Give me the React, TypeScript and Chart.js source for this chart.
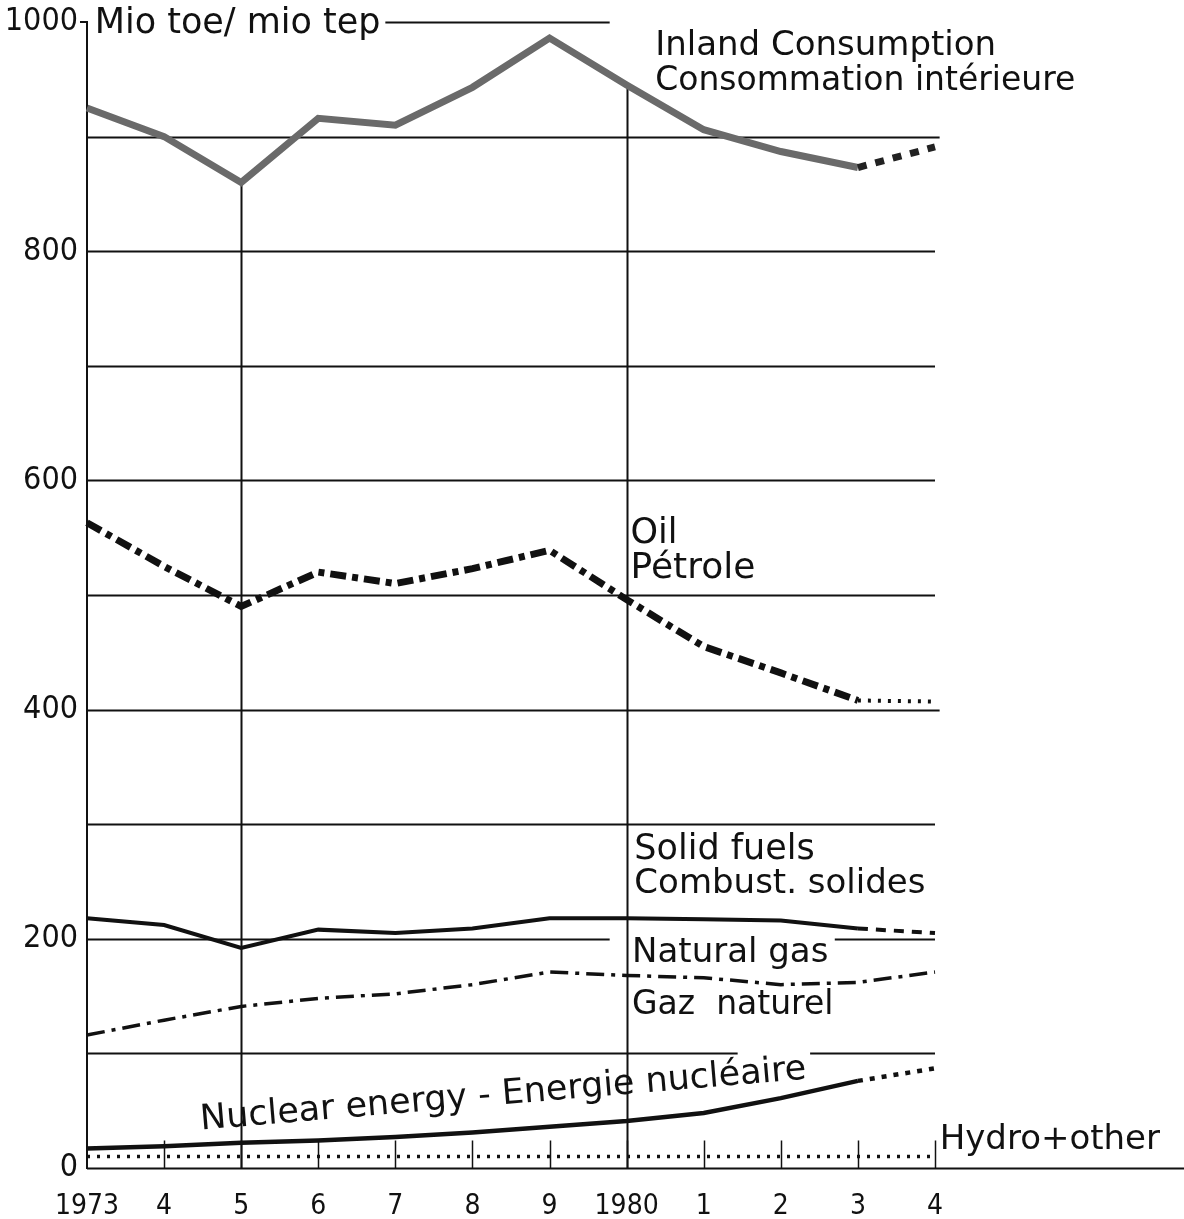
import React, { useEffect, useRef } from 'react';
import { Chart, registerables } from 'chart.js';

Chart.register(...registerables);

// ---- data (Mio toe) ----
const years = ['1973', '4', '5', '6', '7', '8', '9', '1980', '1', '2', '3', '4'];
const inland = [925, 900, 860, 916, 910, 943, 986, 945, 906, 887, 873, 891];
const oil = [563, 525, 490, 520, 510, 523, 539, 496, 455, 432, 408, 407];
const solidFuels = [218, 212, 192, 208, 205, 209, 218, 218, 217, 216, 209, 205];
const naturalGas = [116, 129, 141, 148, 152, 160, 171, 168, 166, 160, 162, 171];
const nuclear = [17, 19, 22, 24, 27, 31, 36, 41, 48, 61, 76, 87];
const hydroOther = [10, 10, 10, 10, 10, 10, 10, 10, 10, 10, 10, 10];
const yTickLabels = [0, 200, 400, 600, 800, 1000];

// ---- decoration (positions in data units) ----
const GRID_SEGMENTS: [number, number, number][] = [
  [1000, 3.87, 6.78],
  [900, 0, 11.06],
  [800, 0, 11],
  [700, 0, 11],
  [600, 0, 11],
  [500, 0, 11],
  [400, 0, 11.06],
  [300, 0, 11],
  [200, 0, 6.78],
  [200, 9.7, 11],
  [100, 0, 8.44],
  [100, 9.38, 11],
];
const DROP_LINES = [2, 7];
const FONT = '"DejaVu Sans", sans-serif';
const NARROW = '"DejaVu Sans Condensed", "Liberation Sans Narrow", "DejaVu Sans", sans-serif';
const NOTES: { text: string; x: number; y: number; size: number }[] = [
  { text: 'Mio toe/ mio tep', x: 0.1, y: 990, size: 35 },
  { text: 'Inland Consumption', x: 7.37, y: 971, size: 34 },
  { text: 'Consommation intérieure', x: 7.37, y: 941, size: 33 },
  { text: 'Oil', x: 7.05, y: 545, size: 35 },
  { text: 'Pétrole', x: 7.05, y: 515, size: 36 },
  { text: 'Solid fuels', x: 7.1, y: 270, size: 35 },
  { text: 'Combust. solides', x: 7.1, y: 240, size: 34 },
  { text: 'Natural gas', x: 7.07, y: 180, size: 34 },
  { text: 'Gaz  naturel', x: 7.07, y: 134, size: 33 },
  { text: 'Hydro+other', x: 11.06, y: 17, size: 34 },
];

const decorPlugin = {
  id: 'decor',
  beforeDatasetsDraw(chart: any) {
    const { ctx, scales } = chart;
    const x = scales.x;
    const y = scales.y;
    ctx.save();
    ctx.strokeStyle = '#111';
    ctx.lineWidth = 2;
    ctx.lineCap = 'butt';
    for (const [v, a, b] of GRID_SEGMENTS) {
      const py = Math.round(y.getPixelForValue(v)) + 0.5;
      ctx.beginPath();
      ctx.moveTo(x.getPixelForValue(a), py);
      ctx.lineTo(x.getPixelForValue(b), py);
      ctx.stroke();
    }
    // baseline across to the page edge
    const y0 = Math.round(y.getPixelForValue(0)) + 0.5;
    ctx.beginPath();
    ctx.moveTo(x.getPixelForValue(0), y0);
    ctx.lineTo(chart.width, y0);
    ctx.stroke();
    // small dash at 1000
    const y1000 = y.getPixelForValue(1000);
    ctx.beginPath();
    ctx.moveTo(x.getPixelForValue(0) - 7, y1000);
    ctx.lineTo(x.getPixelForValue(0), y1000);
    ctx.stroke();
    // drop lines from the inland curve
    for (const i of DROP_LINES) {
      const px = Math.round(x.getPixelForValue(i)) + 0.5;
      ctx.beginPath();
      ctx.moveTo(px, y.getPixelForValue(0));
      ctx.lineTo(px, y.getPixelForValue(inland[i]));
      ctx.stroke();
    }
    // small year ticks above the baseline
    ctx.lineWidth = 1.5;
    for (let i = 1; i < years.length; i++) {
      const px = Math.round(x.getPixelForValue(i)) + 0.5;
      ctx.beginPath();
      ctx.moveTo(px, y.getPixelForValue(0));
      ctx.lineTo(px, y.getPixelForValue(24));
      ctx.stroke();
    }
    ctx.restore();
  },
  afterDatasetsDraw(chart: any) {
    const { ctx, scales } = chart;
    const x = scales.x;
    const y = scales.y;
    ctx.save();
    ctx.fillStyle = '#111';
    ctx.textBaseline = 'alphabetic';
    ctx.textAlign = 'left';
    for (const n of NOTES) {
      ctx.font = `${n.size}px ${FONT}`;
      ctx.fillText(n.text, x.getPixelForValue(n.x), y.getPixelForValue(n.y));
    }
    // slanted nuclear label
    ctx.font = `35px ${FONT}`;
    ctx.translate(x.getPixelForValue(1.48), y.getPixelForValue(33.5));
    ctx.rotate((-4.8 * Math.PI) / 180);
    ctx.fillText('Nuclear energy - Energie nucléaire', 0, 0);
    ctx.restore();
  },
};

export default function App() {
  const canvasRef = useRef<HTMLCanvasElement | null>(null);

  useEffect(() => {
    document.body.style.margin = '0';
    const canvas = canvasRef.current;
    if (!canvas) return;
    const tail = (idx: number) => (ctx: any) => ctx.p0DataIndex >= idx;
    const chart = new Chart(canvas, {
      type: 'line',
      data: {
        labels: years,
        datasets: [
          {
            label: 'Inland Consumption',
            data: inland,
            borderColor: '#6a6a6a',
            borderWidth: 7,
            pointRadius: 0,
            tension: 0,
            segment: {
              borderDash: (c: any) => (tail(10)(c) ? [9, 9] : undefined),
              borderColor: (c: any) => (tail(10)(c) ? '#222' : undefined),
            },
          },
          {
            label: 'Oil',
            data: oil,
            borderColor: '#111',
            borderWidth: 7,
            borderDash: [16, 6, 6, 6],
            pointRadius: 0,
            tension: 0,
            segment: {
              borderDash: (c: any) => (tail(10)(c) ? [3, 7] : undefined),
              borderWidth: (c: any) => (tail(10)(c) ? 4 : undefined),
            },
          },
          {
            label: 'Solid fuels',
            data: solidFuels,
            borderColor: '#111',
            borderWidth: 4,
            pointRadius: 0,
            tension: 0,
            segment: {
              borderDash: (c: any) => (tail(10)(c) ? [10, 8] : undefined),
            },
          },
          {
            label: 'Natural gas',
            data: naturalGas,
            borderColor: '#111',
            borderWidth: 3.5,
            borderDash: [18, 7, 4, 7],
            pointRadius: 0,
            tension: 0,
          },
          {
            label: 'Nuclear energy',
            data: nuclear,
            borderColor: '#111',
            borderWidth: 4.5,
            pointRadius: 0,
            tension: 0,
            segment: {
              borderDash: (c: any) => (tail(10)(c) ? [5, 7] : undefined),
            },
          },
          {
            label: 'Hydro+other',
            data: hydroOther,
            borderColor: '#111',
            borderWidth: 3.5,
            borderDash: [3, 7],
            pointRadius: 0,
            tension: 0,
          },
        ],
      },
      options: {
        responsive: false,
        animation: false,
        devicePixelRatio: 1,
        layout: { padding: { top: 22, right: 249, left: 0, bottom: 0 } },
        plugins: {
          legend: { display: false },
          tooltip: { enabled: false },
          title: { display: false },
        },
        scales: {
          x: {
            type: 'category',
            offset: false,
            grid: { display: false, drawTicks: false },
            border: { display: false },
            ticks: {
              color: '#111',
              font: { family: NARROW, size: 28 },
              padding: 22,
              maxRotation: 0,
              autoSkip: false,
            },
            afterFit: (s: any) => {
              s.height = 51;
            },
          },
          y: {
            min: 0,
            max: 1000,
            grid: { display: false, drawTicks: false },
            border: { display: true, color: '#111', width: 2 },
            ticks: {
              stepSize: 100,
              color: '#111',
              font: { family: NARROW, size: 32 },
              padding: 9,
              autoSkip: false,
              callback: (v: any) => (yTickLabels.includes(Number(v)) ? String(v) : ''),
            },
            afterFit: (s: any) => {
              s.width = 87;
              s.paddingTop = 0;
              s.paddingBottom = 0;
            },
          },
        },
      },
      plugins: [decorPlugin],
    });
    return () => chart.destroy();
  }, []);

  return (
    <div style={{ width: 1184, height: 1219, background: '#fff' }}>
      <canvas ref={canvasRef} width={1184} height={1219} />
    </div>
  );
}
